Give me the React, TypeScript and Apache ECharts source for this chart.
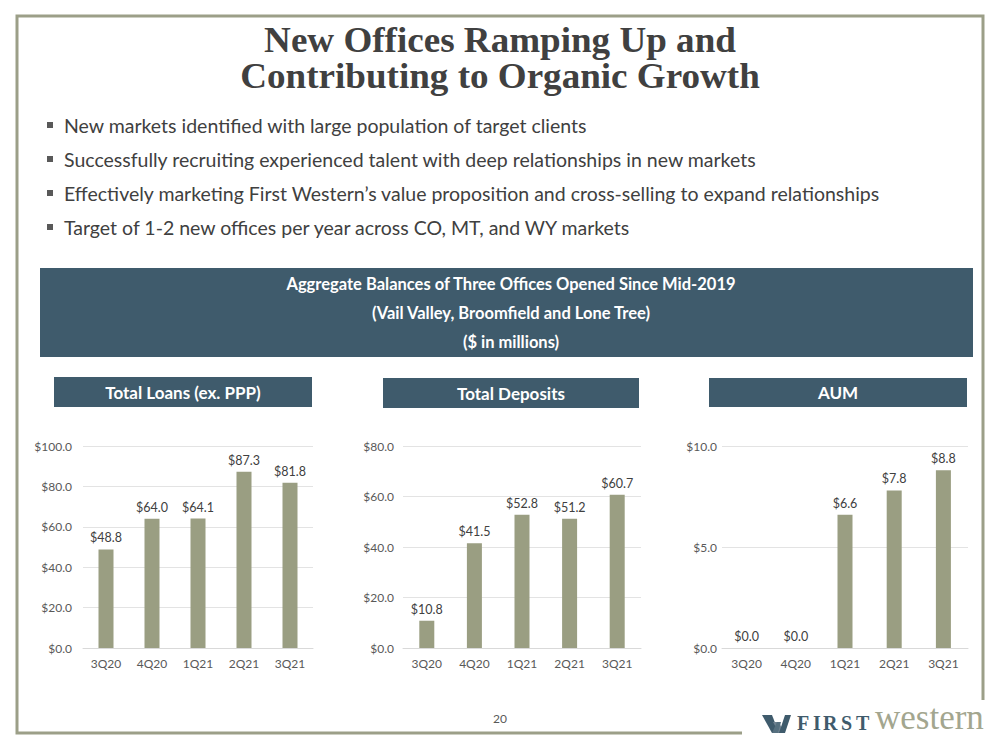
import React, { useEffect, useRef } from "react";
import * as echarts from "echarts";

const categories = ["3Q20", "4Q20", "1Q21", "2Q21", "3Q21"];
const loans = [48.8, 64.0, 64.1, 87.3, 81.8];
const deposits = [10.8, 41.5, 52.8, 51.2, 60.7];
const aum = [0.0, 0.0, 6.6, 7.8, 8.8];

const titleLines = ["New Offices Ramping Up and", "Contributing to Organic Growth"];
const bullets = [
  "New markets identified with large population of target clients",
  "Successfully recruiting experienced talent with deep relationships in new markets",
  "Effectively marketing First Western\u2019s value proposition and cross-selling to expand relationships",
  "Target of 1-2 new offices per year across CO, MT, and WY markets",
];
const bannerLines = [
  "Aggregate Balances of Three Offices Opened Since Mid-2019",
  "(Vail Valley, Broomfield and Lone Tree)",
  "($ in millions)",
];
const panelTitles = ["Total Loans (ex. PPP)", "Total Deposits", "AUM"];
const axisMax = [100, 80, 10];
const axisStep = [20, 20, 5];
const logoFirst = ["F", "I", "R", "S", "T"];

const SLATE = "#3f5b6c";
const BAR = "#9a9e82";
const FRAME = "#9c9f88";
const TEXT = "#404040";
const AXIS_TEXT = "#595959";
const GRID = "#e3e3e3";

export default function App() {
  const ref = useRef<HTMLDivElement>(null);
  useEffect(() => {
    if (!ref.current) return;
    const chart = echarts.init(ref.current, null, { renderer: "svg" });
    const seriesData = [loans, deposits, aum];
    const grids = [
      { left: 83, top: 446, width: 230, height: 202 },
      { left: 403, top: 446, width: 238, height: 202 },
      { left: 722, top: 446, width: 246, height: 202 },
    ];
    const labelMargins = [11, 9, 5];
    const panelRects = [
      [54, 377, 258, 30],
      [383, 378, 256, 30],
      [709, 378, 258, 29],
    ];
    const fmt = (v: number) => "$" + v.toFixed(1);

    const graphics: any[] = [];
    graphics.push({
      type: "polyline",
      shape: { points: [[742, 733], [17, 733], [17, 16], [983, 16], [983, 700]] },
      style: { stroke: FRAME, lineWidth: 3, fill: null },
    });
    titleLines.forEach((t, i) => {
      graphics.push({
        type: "text",
        x: 500,
        y: 40 + i * 36,
        scaleX: 1.06,
        style: {
          x: 0, y: 0, text: t, textAlign: "center", textVerticalAlign: "middle",
          font: "bold 35px 'Liberation Serif'", fill: TEXT,
        },
      });
    });
    bullets.forEach((t, i) => {
      const y = 125 + i * 34;
      graphics.push({ type: "rect", shape: { x: 47, y: y - 3, width: 6, height: 6 }, style: { fill: "#595959" } });
      graphics.push({
        type: "text",
        style: { x: 64, y, text: t, textVerticalAlign: "middle", font: "19.5px Lato", fill: TEXT },
      });
    });
    graphics.push({ type: "rect", shape: { x: 40, y: 268, width: 933, height: 89 }, style: { fill: SLATE } });
    bannerLines.forEach((t, i) => {
      graphics.push({
        type: "text",
        style: {
          x: 511, y: 284 + i * 29, text: t, textAlign: "center", textVerticalAlign: "middle",
          font: "bold 16.5px Lato", fill: "#ffffff",
        },
      });
    });
    panelTitles.forEach((t, i) => {
      const [x, y, w, h] = panelRects[i];
      graphics.push({ type: "rect", shape: { x, y, width: w, height: h }, style: { fill: SLATE } });
      graphics.push({
        type: "text",
        style: {
          x: x + w / 2, y: y + h / 2, text: t, textAlign: "center", textVerticalAlign: "middle",
          font: "bold 17px Lato", fill: "#ffffff",
        },
      });
    });
    graphics.push({
      type: "text",
      style: { x: 500, y: 718, text: "20", textAlign: "center", textVerticalAlign: "middle", font: "12px Lato", fill: AXIS_TEXT },
    });
    // logo emblem
    graphics.push({
      type: "polygon",
      shape: { points: [[762, 715], [772, 715], [779, 733], [772, 733]] },
      style: { fill: SLATE },
    });
    graphics.push({
      type: "polygon",
      shape: { points: [[773, 722], [779, 722], [784, 733], [779, 733]] },
      style: { fill: "#6f8290" },
    });
    graphics.push({
      type: "polygon",
      shape: { points: [[779, 733], [785, 733], [791, 715], [785, 715]] },
      style: { fill: SLATE },
    });
    graphics.push({
      type: "polygon",
      shape: { points: [[772, 733], [777, 722], [781, 722], [778, 733]] },
      style: { fill: "#56707f" },
    });
    const firstX = [797, 813, 823, 841, 856];
    logoFirst.forEach((c, i) => {
      graphics.push({
        type: "text",
        style: { x: firstX[i], y: 733, text: c, textVerticalAlign: "bottom", font: "bold 20px 'Liberation Serif'", fill: SLATE },
      });
    });
    graphics.push({
      type: "text",
      style: { x: 875, y: 735, text: "western", textVerticalAlign: "bottom", font: "35px 'Liberation Serif'", fill: "#a3a68f" },
    });

    chart.setOption({
      animation: false,
      backgroundColor: "#ffffff",
      grid: grids.map((g) => ({ ...g, containLabel: false })),
      xAxis: grids.map((_, i) => ({
        type: "category",
        gridIndex: i,
        data: categories,
        axisTick: { show: false },
        axisLine: { show: true, lineStyle: { color: "#d9d9d9", width: 1 } },
        axisLabel: { color: AXIS_TEXT, fontSize: 12, fontFamily: "Lato", margin: 9 },
      })),
      yAxis: grids.map((_, i) => ({
        type: "value",
        gridIndex: i,
        min: 0,
        max: axisMax[i],
        interval: axisStep[i],
        axisLine: { show: false },
        axisTick: { show: false },
        splitLine: { lineStyle: { color: GRID, width: 1 } },
        axisLabel: { color: AXIS_TEXT, fontSize: 12, fontFamily: "Lato", margin: labelMargins[i], formatter: (v: number) => fmt(v) },
      })),
      series: seriesData.map((d, i) => ({
        type: "bar",
        xAxisIndex: i,
        yAxisIndex: i,
        data: d,
        barWidth: 15,
        itemStyle: { color: BAR },
        label: {
          show: true,
          position: "top",
          distance: 5,
          color: TEXT,
          fontSize: 12.5,
          fontFamily: "Lato",
          formatter: (p: any) => fmt(p.value),
        },
      })),
      graphic: graphics,
    });
    return () => chart.dispose();
  }, []);
  return (
    <div
      ref={ref}
      style={{ position: "fixed", left: 0, top: 0, width: 1000, height: 750, background: "#fff" }}
    />
  );
}
